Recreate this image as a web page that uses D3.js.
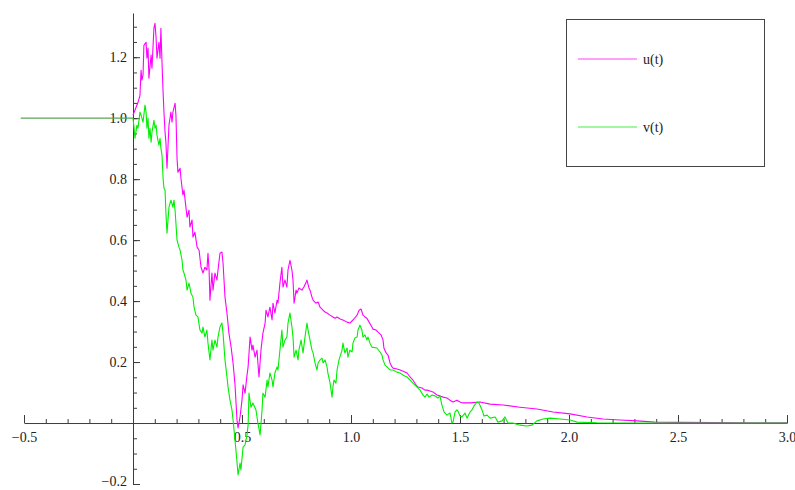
<!DOCTYPE html>
<html>
<head>
<meta charset="utf-8">
<script src="https://cdn.jsdelivr.net/npm/d3@7"></script>
<style>
  html, body { margin: 0; padding: 0; background: #fff; }
  svg { display: block; }
</style>
</head>
<body>
<svg id="chart" width="795" height="490"></svg>
<script>
// Solution paths u(t) and v(t), sampled at the times in tU / tV.
const tU = [0.000,0.009,0.023,0.032,0.037,0.041,0.046,0.050,0.060,0.064,0.069,0.073,0.083,0.087,0.096,0.101,0.106,0.110,0.119,0.124,0.128,0.133,0.138,0.142,0.147,0.151,0.156,0.165,0.174,0.179,0.183,0.193,0.197,0.202,0.206,0.216,0.220,0.229,0.234,0.239,0.248,0.257,0.261,0.271,0.275,0.284,0.294,0.303,0.312,0.321,0.330,0.339,0.344,0.349,0.353,0.362,0.367,0.376,0.385,0.390,0.399,0.408,0.413,0.422,0.431,0.440,0.450,0.459,0.468,0.472,0.477,0.482,0.491,0.500,0.505,0.514,0.523,0.528,0.537,0.546,0.550,0.560,0.569,0.573,0.578,0.587,0.596,0.606,0.610,0.619,0.628,0.638,0.642,0.651,0.661,0.665,0.674,0.683,0.688,0.697,0.706,0.711,0.720,0.729,0.734,0.739,0.748,0.752,0.761,0.775,0.784,0.794,0.798,0.807,0.812,0.821,0.826,0.839,0.849,0.858,0.872,0.881,0.890,0.904,0.917,0.927,0.936,0.950,0.963,0.982,0.995,1.009,1.028,1.037,1.046,1.055,1.064,1.073,1.083,1.096,1.101,1.115,1.124,1.138,1.147,1.151,1.161,1.170,1.179,1.188,1.193,1.211,1.225,1.239,1.257,1.271,1.284,1.298,1.307,1.326,1.339,1.349,1.362,1.376,1.394,1.408,1.422,1.440,1.454,1.468,1.486,1.500,1.514,1.546,1.592,1.638,1.697,1.775,1.853,1.927,2.005,2.083,2.156,2.234,2.312,2.394,2.509,2.661,2.830,3.000];
const uValues = [1.010,1.026,1.052,1.075,1.157,1.125,1.141,1.239,1.249,1.197,1.230,1.131,1.207,1.164,1.295,1.311,1.262,1.197,1.249,1.197,1.295,1.184,1.085,1.020,0.954,0.921,0.836,0.977,1.020,0.987,1.020,1.049,1.010,0.869,0.823,0.836,0.803,0.748,0.764,0.731,0.675,0.698,0.643,0.666,0.610,0.626,0.577,0.567,0.511,0.492,0.511,0.502,0.557,0.502,0.403,0.492,0.436,0.492,0.469,0.502,0.557,0.561,0.525,0.413,0.361,0.295,0.249,0.197,0.125,0.075,0.010,-0.016,0.020,0.075,0.125,0.098,0.157,0.184,0.282,0.239,0.256,0.216,0.239,0.197,0.151,0.239,0.295,0.328,0.370,0.348,0.380,0.338,0.393,0.361,0.403,0.393,0.459,0.511,0.446,0.469,0.446,0.502,0.534,0.502,0.469,0.393,0.436,0.426,0.443,0.436,0.446,0.462,0.469,0.443,0.436,0.413,0.403,0.393,0.397,0.380,0.370,0.364,0.361,0.354,0.348,0.344,0.348,0.341,0.338,0.331,0.328,0.338,0.354,0.370,0.374,0.354,0.348,0.344,0.331,0.315,0.308,0.305,0.298,0.289,0.272,0.246,0.230,0.223,0.197,0.184,0.180,0.177,0.174,0.170,0.164,0.151,0.141,0.125,0.118,0.115,0.108,0.108,0.105,0.102,0.092,0.089,0.085,0.082,0.075,0.069,0.075,0.069,0.066,0.066,0.069,0.062,0.059,0.052,0.046,0.036,0.030,0.020,0.013,0.010,0.007,0.003,0.002,0.0015,0.001,0.001];

const tV = [0.000,0.005,0.009,0.018,0.023,0.032,0.037,0.046,0.055,0.060,0.064,0.069,0.073,0.078,0.083,0.087,0.096,0.101,0.106,0.110,0.119,0.124,0.128,0.133,0.138,0.142,0.147,0.151,0.156,0.165,0.174,0.183,0.188,0.193,0.202,0.211,0.216,0.225,0.229,0.234,0.243,0.248,0.257,0.266,0.275,0.280,0.289,0.298,0.307,0.317,0.321,0.330,0.339,0.344,0.353,0.362,0.367,0.376,0.385,0.390,0.399,0.408,0.413,0.422,0.431,0.436,0.445,0.454,0.459,0.468,0.477,0.482,0.491,0.495,0.505,0.514,0.523,0.528,0.532,0.541,0.550,0.564,0.573,0.583,0.592,0.596,0.606,0.615,0.619,0.628,0.638,0.642,0.651,0.661,0.665,0.674,0.683,0.688,0.697,0.706,0.711,0.720,0.729,0.734,0.739,0.748,0.757,0.761,0.771,0.780,0.789,0.798,0.803,0.812,0.821,0.826,0.835,0.844,0.849,0.858,0.867,0.872,0.881,0.890,0.894,0.904,0.913,0.917,0.922,0.931,0.936,0.945,0.959,0.963,0.972,0.982,0.986,0.995,1.005,1.009,1.018,1.028,1.032,1.041,1.050,1.055,1.064,1.073,1.078,1.087,1.096,1.119,1.133,1.142,1.147,1.156,1.165,1.179,1.193,1.211,1.225,1.239,1.257,1.271,1.284,1.303,1.317,1.330,1.339,1.349,1.358,1.372,1.385,1.399,1.408,1.417,1.427,1.440,1.454,1.463,1.468,1.477,1.486,1.491,1.500,1.509,1.523,1.532,1.546,1.555,1.564,1.578,1.587,1.601,1.610,1.624,1.638,1.661,1.674,1.693,1.706,1.720,1.743,1.775,1.807,1.830,1.853,1.881,1.913,1.959,2.005,2.037,2.128,2.358,3.000];
const vValues = [1.000,0.967,0.934,0.977,0.967,1.020,1.010,0.987,1.043,1.020,0.967,1.000,0.934,0.967,0.921,0.954,0.993,0.967,0.977,0.944,0.911,0.934,0.902,0.879,0.803,0.770,0.764,0.689,0.623,0.708,0.731,0.708,0.731,0.698,0.600,0.577,0.567,0.534,0.502,0.492,0.469,0.436,0.459,0.426,0.413,0.380,0.354,0.348,0.305,0.295,0.315,0.282,0.305,0.262,0.207,0.272,0.239,0.272,0.249,0.282,0.315,0.328,0.295,0.207,0.151,0.118,0.075,0.043,0.010,-0.056,-0.128,-0.170,-0.131,-0.154,-0.079,-0.072,-0.039,-0.007,0.098,0.052,0.066,0.043,0.000,-0.039,0.043,0.098,0.085,0.141,0.118,0.164,0.141,0.118,0.164,0.184,0.174,0.239,0.305,0.249,0.272,0.282,0.328,0.361,0.315,0.282,0.216,0.239,0.207,0.239,0.272,0.230,0.282,0.328,0.305,0.272,0.239,0.230,0.197,0.174,0.197,0.207,0.213,0.197,0.207,0.184,0.164,0.131,0.085,0.118,0.141,0.131,0.174,0.207,0.239,0.262,0.230,0.246,0.216,0.239,0.233,0.262,0.279,0.282,0.305,0.321,0.305,0.282,0.289,0.272,0.282,0.262,0.249,0.246,0.233,0.223,0.207,0.190,0.184,0.174,0.174,0.167,0.164,0.157,0.151,0.141,0.131,0.118,0.108,0.092,0.085,0.095,0.085,0.092,0.089,0.082,0.089,0.059,0.036,0.026,0.033,0.000,0.003,0.036,0.043,0.039,0.023,0.020,0.033,0.016,0.036,0.043,0.056,0.069,0.066,0.043,0.023,0.026,0.016,0.020,0.003,0.007,0.020,0.000,0.000,-0.007,-0.010,-0.007,0.007,0.013,0.016,0.013,0.010,0.003,0.001,0.000,0.000];

// Initial history on [-0.5, 0]
const tHist = [-0.515, 0.0];
const histValues = [1.0, 1.0];

// Axis ticks
const xMajorTicks = [-0.5, 0.5, 1.0, 1.5, 2.0, 2.5, 3.0];
const xMinorTicks = d3.range(-5, 31).map(i => i / 10);
const yMajorTicks = [-0.2, 0.2, 0.4, 0.6, 0.8, 1.0, 1.2];
const yMinorTicks = d3.range(-4, 27).map(i => i / 20);

const legendItems = [
  { label: "u(t)", color: "#ff00ff" },
  { label: "v(t)", color: "#00ee00" }
];

const FONT = "'Liberation Serif', 'Times New Roman', 'DejaVu Serif', serif";

const svg = d3.select("#chart");
svg.append("rect").attr("width", 795).attr("height", 490).attr("fill", "#fff");

const x = d3.scaleLinear().domain([-0.5, 3.0]).range([24, 787]);
const y = d3.scaleLinear().domain([-0.2, 1.345]).range([484, 13]);

const fmt = d3.format(".1f");
const axisColor = "#3c3c3c";

function styleLabels(g) {
  g.selectAll("text")
    .style("font-family", FONT)
    .style("font-size", "14px")
    .attr("fill", "#222");
}

// x axis (ticks point upward)
const gx = svg.append("g").attr("transform", `translate(0,${y(0)})`);
gx.call(d3.axisBottom(x).tickValues(xMinorTicks).tickSizeInner(-4).tickSizeOuter(0).tickFormat(""));
gx.select(".domain").remove();
const gxM = svg.append("g").attr("transform", `translate(0,${y(0)})`);
gxM.call(d3.axisBottom(x).tickValues(xMajorTicks).tickSizeInner(-8).tickSizeOuter(0).tickPadding(9).tickFormat(fmt));
gxM.selectAll("text").attr("dy", "0.72em");
styleLabels(gxM);

// y axis (ticks point right)
const gy = svg.append("g").attr("transform", `translate(${x(0)},0)`);
gy.call(d3.axisLeft(y).tickValues(yMinorTicks).tickSizeInner(-4).tickSizeOuter(0).tickFormat(""));
gy.select(".domain").remove();
const gyM = svg.append("g").attr("transform", `translate(${x(0)},0)`);
gyM.call(d3.axisLeft(y).tickValues(yMajorTicks).tickSizeInner(-7).tickSizeOuter(0).tickPadding(6).tickFormat(fmt));
// the lowest label sits at the bottom edge; lift it slightly so it stays inside
gyM.selectAll("text").attr("dy", d => (d < 0 ? "0.1em" : "0.3em"));
styleLabels(gyM);

svg.selectAll("g line").attr("stroke", axisColor);
svg.selectAll("g .domain").attr("stroke", axisColor);

// curves
const line = d3.line().x(d => x(d[0])).y(d => y(d[1]));
const zip = (a, b) => a.map((t, i) => [t, b[i]]);

svg.append("path").datum(zip(tHist, histValues))
  .attr("d", line).attr("fill", "none").attr("stroke", "#5aa65a").attr("stroke-width", 1.3);
svg.append("path").datum(zip(tU, uValues))
  .attr("d", line).attr("fill", "none").attr("stroke", "#ff00ff").attr("stroke-width", 1.1).attr("stroke-linejoin", "round");
svg.append("path").datum(zip(tV, vValues))
  .attr("d", line).attr("fill", "none").attr("stroke", "#00ee00").attr("stroke-width", 1.1).attr("stroke-linejoin", "round");

// legend
const lg = svg.append("g");
lg.append("rect").attr("x", 566.5).attr("y", 19.5).attr("width", 198).attr("height", 147)
  .attr("fill", "#fff").attr("stroke", "#444").attr("stroke-width", 1);
legendItems.forEach((it, i) => {
  const ly = 59 + i * 68;
  lg.append("line").attr("x1", 578).attr("x2", 637).attr("y1", ly).attr("y2", ly)
    .attr("stroke", it.color).attr("stroke-width", 1.2).attr("opacity", 0.75);
  lg.append("text").attr("x", 643).attr("y", ly).attr("dy", "0.33em")
    .style("font-family", FONT).style("font-size", "14px").attr("fill", "#222")
    .text(it.label);
});
</script>
</body>
</html>
